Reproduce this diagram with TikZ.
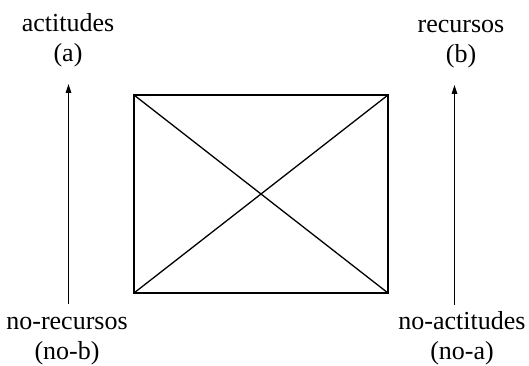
\documentclass[tikz,border=0pt]{standalone}
\usepackage{fontspec}
\setmainfont{Liberation Serif}
\usetikzlibrary{arrows.meta}
\tikzset{
  label/.style = {align=center, inner sep=0pt, font=\fontsize{26}{30}\selectfont},
  axis/.style = {line width=1.2pt, -{Triangle[length=9pt,width=5.5pt]}},
  frame/.style = {line width=1.3pt, line join=miter}
}

\begin{document}
\begin{tikzpicture}[x=1pt,y=-1pt]
  \useasboundingbox (0,0) rectangle (529,366);

  % labels
  \node[label] (a)   at (68,41)   {\strut actitudes\\\strut (a)};
  \node[label] (b)   at (461,42)  {\strut recursos\\\strut (b)};
  \node[label] (nob) at (67,338)  {\strut no-recursos\\\strut (no-b)};
  \node[label] (noa) at (462,338) {\strut no-actitudes\\\strut (no-a)};

  % arrows
  \coordinate (nob-start) at (68.5,304);
  \coordinate (a-end)     at (68.5,84);
  \coordinate (noa-start) at (454.5,305);
  \coordinate (b-end)     at (454.5,85);
  \draw[axis] (nob-start) -- (a-end);
  \draw[axis] (noa-start) -- (b-end);

  % square with cross
  \coordinate (tl) at (134,95);
  \coordinate (tr) at (388,95);
  \coordinate (bl) at (134,293);
  \coordinate (br) at (388,293);
  \draw[frame] (tl) -- (tr) -- (br) -- (bl) -- cycle;
  \draw[frame] (tl) -- (br);
  \draw[frame] (bl) -- (tr);
\end{tikzpicture}
\end{document}
